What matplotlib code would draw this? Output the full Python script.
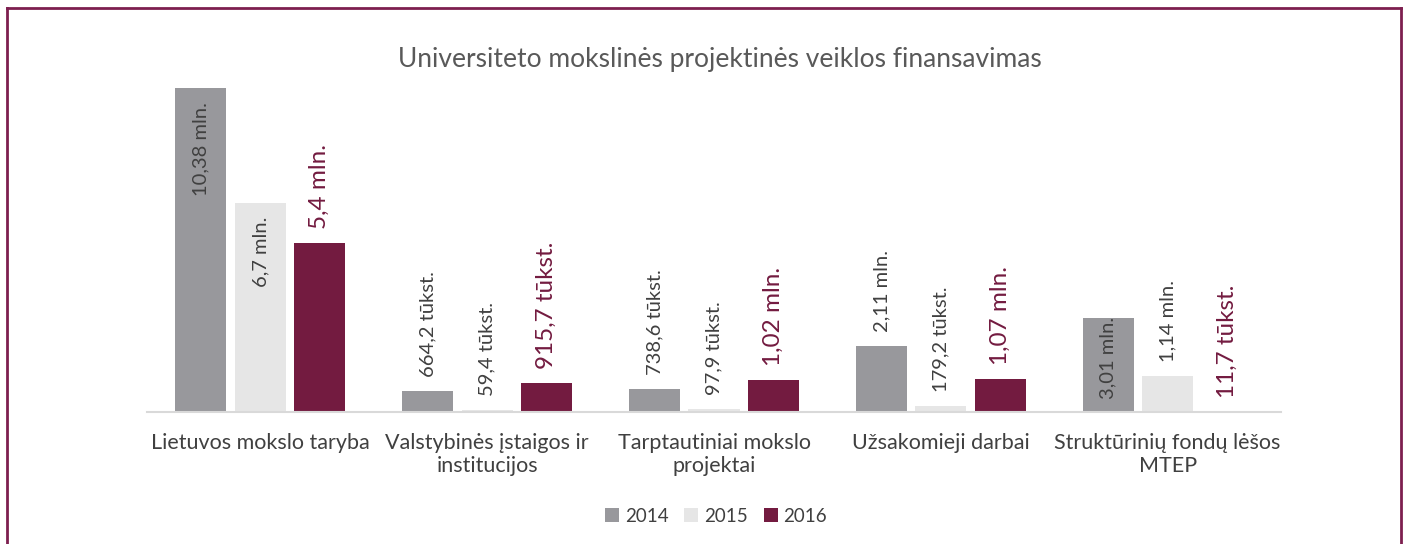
import matplotlib
matplotlib.use('Agg')

import matplotlib.pyplot as plt
from matplotlib.lines import Line2D
import numpy as np

# Data (in millions EUR)
categories = ['Lietuvos mokslo taryba', 'Valstybinės įstaigos ir\ninstitucijos',
              'Tarptautiniai mokslo\nprojektai', 'Užsakomieji darbai',
              'Struktūrinių fondų lėšos\nMTEP']
years = ['2014', '2015', '2016']
v2014 = [10.38, 0.6642, 0.7386, 2.11, 3.01]
v2015 = [6.7, 0.0594, 0.0979, 0.1792, 1.14]
v2016 = [5.4, 0.9157, 1.02, 1.07, 0.0117]
lab2014 = ['10,38 mln.', '664,2 tūkst.', '738,6 tūkst.', '2,11 mln.', '3,01 mln.']
lab2015 = ['6,7 mln.', '59,4 tūkst.', '97,9 tūkst.', '179,2 tūkst.', '1,14 mln.']
lab2016 = ['5,4 mln.', '915,7 tūkst.', '1,02 mln.', '1,07 mln.', '11,7 tūkst.']
inside2014 = [True, False, False, False, True]
inside2015 = [True, False, False, False, False]

colors = ['#98989c', '#e6e6e6', '#731b40']
text_gray = '#404040'
border = '#7d1f4f'

plt.rcParams['font.family'] = ['Lato', 'DejaVu Sans']

fig = plt.figure(figsize=(14.08, 5.44), dpi=100)
W, H = 1408, 544
ax = fig.add_axes([147 / W, (H - 412) / H, (1281 - 147) / W, (412 - 88) / H])

x = np.arange(len(categories))
width = 0.225
step = 0.262
series = [v2014, v2015, v2016]
labels = [lab2014, lab2015, lab2016]
for i, vals in enumerate(series):
    ax.bar(x + (i - 1) * step, vals, width, color=colors[i], label=years[i], zorder=2)

ax.set_xlim(-0.5, len(categories) - 0.5)
ax.set_ylim(0, 10.38)

# px -> data units for offsets
ppu = (412 - 88) / 10.38
off = 14 / ppu

for j in range(len(categories)):
    for i in range(3):
        xv = x[j] + (i - 1) * step
        v = series[i][j]
        txt = labels[i][j]
        if i == 2:
            ax.text(xv, v + off, txt, rotation=90, ha='center', va='bottom',
                    fontsize=17.5, color='#731b40', clip_on=False)
        else:
            inside = (inside2014 if i == 0 else inside2015)[j]
            if inside:
                if v > 5:
                    ax.text(xv, v - off, txt, rotation=90, ha='center', va='top',
                            fontsize=14.5, color=text_gray)
                else:
                    ax.text(xv, v + 1 / ppu, txt, rotation=90, ha='center', va='top',
                            fontsize=14.5, color=text_gray)
            else:
                ax.text(xv, v + off, txt, rotation=90, ha='center', va='bottom',
                        fontsize=14.5, color=text_gray, clip_on=False)

ax.set_xticks(x)
ax.set_xticklabels(categories, fontsize=15.5, color=text_gray, linespacing=1.2)
ax.tick_params(axis='x', length=0, pad=15)
ax.set_yticks([])
for s in ['top', 'right', 'left']:
    ax.spines[s].set_visible(False)
ax.spines['bottom'].set_color('#d9d9d9')
ax.spines['bottom'].set_linewidth(1.5)

fig.text(720 / W, 1 - 60 / H, 'Universiteto mokslinės projektinės veiklos finansavimas',
         ha='center', va='center', fontsize=19, color='#595959')

leg = fig.legend(loc='center', bbox_to_anchor=(716 / W, 1 - 516 / H), ncol=3,
                 frameon=False, fontsize=13.5, handlelength=0.75, handleheight=0.75,
                 handletextpad=0.3, columnspacing=0.85)
for t in leg.get_texts():
    t.set_color(text_gray)

# border: top, left, right
fig.add_artist(Line2D([7 / W, 1401 / W], [1 - 8 / H, 1 - 8 / H], color=border, lw=2))
fig.add_artist(Line2D([7 / W, 7 / W], [0, 1 - 8 / H], color=border, lw=2))
fig.add_artist(Line2D([1401 / W, 1401 / W], [0, 1 - 8 / H], color=border, lw=2))

fig.savefig('out.png', dpi=100)
